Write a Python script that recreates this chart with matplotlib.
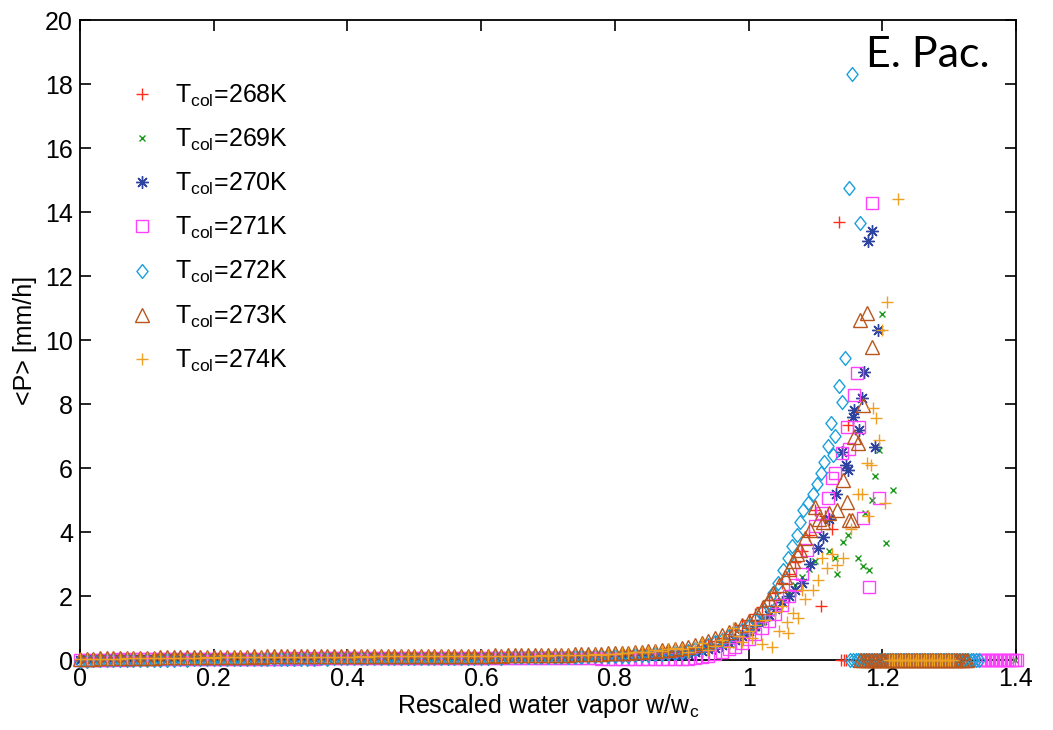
import numpy as np
import matplotlib
matplotlib.use('Agg')
from matplotlib import pyplot as plt
from matplotlib.path import Path

plt.rcParams['font.family'] = ['Liberation Sans', 'DejaVu Sans']
plt.rcParams['mathtext.fontset'] = 'custom'
plt.rcParams['mathtext.rm'] = 'Liberation Sans'
plt.rcParams['mathtext.it'] = 'Liberation Sans:italic'

# column temperatures
temps = [268, 269, 270, 271, 272, 273, 274]

# flat part: one bin every 0.01 from 0 to 0.89
flat_step = 0.01
y_flat_268 = [0.03, 0.03, 0.04, 0.04, 0.05, 0.04, 0.05, 0.05, 0.06, 0.05, 0.06, 0.06, 0.05, 0.06, 0.07,
              0.06, 0.07, 0.07, 0.06, 0.07, 0.08, 0.07, 0.08, 0.08, 0.07, 0.08, 0.09, 0.08, 0.08, 0.09,
              0.08, 0.09, 0.08, 0.09, 0.09, 0.08, 0.09, 0.10, 0.09, 0.09, 0.10, 0.09, 0.10, 0.09, 0.10,
              0.10, 0.09, 0.10, 0.10, 0.09, 0.10, 0.11, 0.10, 0.10, 0.11, 0.10, 0.11, 0.10, 0.11, 0.11,
              0.10, 0.11, 0.11, 0.12, 0.11, 0.11, 0.12, 0.11, 0.12, 0.12, 0.12, 0.13, 0.12, 0.13, 0.13,
              0.13, 0.14, 0.13, 0.14, 0.15, 0.15, 0.16, 0.16, 0.17, 0.18, 0.19, 0.20, 0.22, 0.24, 0.26]
y_flat_269 = [0.02, 0.02, 0.03, 0.03, 0.03, 0.04, 0.03, 0.04, 0.04, 0.05, 0.04, 0.05, 0.05, 0.05, 0.06,
              0.05, 0.06, 0.06, 0.05, 0.06, 0.06, 0.07, 0.06, 0.07, 0.07, 0.06, 0.07, 0.07, 0.08, 0.07,
              0.07, 0.08, 0.07, 0.08, 0.08, 0.07, 0.08, 0.08, 0.08, 0.09, 0.08, 0.08, 0.09, 0.08, 0.09,
              0.09, 0.08, 0.09, 0.09, 0.09, 0.10, 0.09, 0.09, 0.10, 0.09, 0.10, 0.10, 0.09, 0.10, 0.10,
              0.10, 0.10, 0.11, 0.10, 0.11, 0.10, 0.11, 0.11, 0.11, 0.12, 0.11, 0.12, 0.12, 0.12, 0.13,
              0.12, 0.13, 0.13, 0.14, 0.14, 0.15, 0.15, 0.16, 0.17, 0.17, 0.18, 0.19, 0.20, 0.21, 0.23]
y_flat_270 = [0.01, 0.02, 0.02, 0.02, 0.03, 0.03, 0.03, 0.03, 0.04, 0.04, 0.04, 0.04, 0.05, 0.04, 0.05,
              0.05, 0.05, 0.05, 0.06, 0.05, 0.06, 0.06, 0.06, 0.06, 0.07, 0.06, 0.07, 0.06, 0.07, 0.07,
              0.07, 0.07, 0.07, 0.08, 0.07, 0.07, 0.08, 0.07, 0.08, 0.08, 0.08, 0.08, 0.08, 0.08, 0.09,
              0.08, 0.09, 0.08, 0.09, 0.09, 0.09, 0.09, 0.09, 0.09, 0.10, 0.09, 0.10, 0.09, 0.10, 0.10,
              0.10, 0.10, 0.10, 0.10, 0.11, 0.10, 0.11, 0.11, 0.11, 0.11, 0.12, 0.11, 0.12, 0.12, 0.12,
              0.12, 0.12, 0.13, 0.13, 0.13, 0.14, 0.14, 0.15, 0.15, 0.16, 0.16, 0.17, 0.18, 0.19, 0.20]
y_flat_271 = [0.00, 0.00, 0.01, 0.01, 0.01, 0.01, 0.02, 0.01, 0.02, 0.02, 0.02, 0.02, 0.02, 0.03, 0.02,
              0.03, 0.03, 0.03, 0.03, 0.03, 0.03, 0.04, 0.03, 0.04, 0.04, 0.04, 0.04, 0.04, 0.04, 0.04,
              0.04, 0.05, 0.04, 0.05, 0.05, 0.04, 0.05, 0.05, 0.05, 0.05, 0.05, 0.05, 0.05, 0.06, 0.05,
              0.05, 0.06, 0.05, 0.06, 0.06, 0.05, 0.06, 0.06, 0.06, 0.06, 0.06, 0.06, 0.06, 0.06, 0.06,
              0.06, 0.06, 0.06, 0.06, 0.06, 0.06, 0.06, 0.06, 0.06, 0.06, 0.06, 0.06, 0.06, 0.05, 0.05,
              0.05, 0.05, 0.05, 0.04, 0.04, 0.04, 0.03, 0.03, 0.03, 0.02, 0.02, 0.02, 0.02, 0.02, 0.02]
y_flat_272 = [-0.02, -0.02, -0.01, -0.01, -0.01, 0.00, 0.00, 0.00, 0.00, 0.01, 0.00, 0.01, 0.01, 0.01, 0.01,
              0.02, 0.01, 0.02, 0.02, 0.02, 0.02, 0.03, 0.02, 0.03, 0.03, 0.03, 0.03, 0.03, 0.04, 0.03,
              0.04, 0.04, 0.04, 0.04, 0.04, 0.04, 0.05, 0.04, 0.05, 0.05, 0.05, 0.05, 0.05, 0.05, 0.05,
              0.06, 0.05, 0.06, 0.06, 0.06, 0.06, 0.06, 0.06, 0.06, 0.07, 0.06, 0.07, 0.07, 0.07, 0.07,
              0.07, 0.07, 0.08, 0.07, 0.08, 0.08, 0.08, 0.08, 0.09, 0.08, 0.09, 0.09, 0.09, 0.10, 0.10,
              0.10, 0.11, 0.11, 0.12, 0.12, 0.13, 0.14, 0.14, 0.15, 0.16, 0.17, 0.18, 0.19, 0.21, 0.23]
y_flat_273 = [0.03, 0.04, 0.04, 0.05, 0.05, 0.05, 0.06, 0.06, 0.06, 0.07, 0.07, 0.07, 0.08, 0.08, 0.08,
              0.08, 0.09, 0.09, 0.09, 0.09, 0.10, 0.09, 0.10, 0.10, 0.10, 0.10, 0.11, 0.10, 0.11, 0.11,
              0.11, 0.11, 0.11, 0.12, 0.11, 0.12, 0.12, 0.11, 0.12, 0.12, 0.12, 0.12, 0.13, 0.12, 0.13,
              0.12, 0.13, 0.13, 0.13, 0.12, 0.13, 0.13, 0.13, 0.14, 0.13, 0.14, 0.13, 0.14, 0.14, 0.14,
              0.14, 0.14, 0.15, 0.14, 0.15, 0.15, 0.15, 0.15, 0.16, 0.16, 0.16, 0.17, 0.17, 0.17, 0.18,
              0.18, 0.19, 0.19, 0.20, 0.21, 0.21, 0.22, 0.23, 0.24, 0.25, 0.27, 0.28, 0.30, 0.32, 0.35]
y_flat_274 = [0.02, 0.03, 0.03, 0.03, 0.04, 0.04, 0.04, 0.05, 0.05, 0.05, 0.05, 0.06, 0.06, 0.06, 0.06,
              0.07, 0.07, 0.07, 0.07, 0.08, 0.07, 0.08, 0.08, 0.08, 0.08, 0.08, 0.09, 0.08, 0.09, 0.09,
              0.09, 0.09, 0.09, 0.10, 0.09, 0.10, 0.10, 0.10, 0.10, 0.10, 0.10, 0.10, 0.11, 0.10, 0.11,
              0.11, 0.11, 0.11, 0.11, 0.11, 0.11, 0.12, 0.11, 0.12, 0.12, 0.12, 0.12, 0.12, 0.12, 0.13,
              0.12, 0.13, 0.13, 0.13, 0.13, 0.14, 0.13, 0.14, 0.14, 0.15, 0.14, 0.15, 0.16, 0.15, 0.16,
              0.17, 0.16, 0.18, 0.17, 0.19, 0.20, 0.22, 0.21, 0.24, 0.26, 0.25, 0.30, 0.28, 0.33, 0.38]

# rising part (x, <P>)
x_rise_268 = [0.90, 0.91, 0.92, 0.93, 0.94, 0.95, 0.96, 0.97, 0.98, 0.99, 1.00, 1.01, 1.02, 1.03, 1.04,
              1.05, 1.06, 1.07, 1.08, 1.09, 1.10, 1.108, 1.115, 1.125, 1.135, 1.149]
y_rise_268 = [0.28, 0.32, 0.37, 0.43, 0.50, 0.58, 0.68, 0.80, 0.93, 1.08, 1.25, 1.43, 1.65, 1.87, 2.10,
              2.40, 2.70, 3.05, 3.40, 3.90, 4.70, 1.70, 4.50, 4.10, 13.70, 7.35]
x_rise_269 = [0.90, 0.91, 0.92, 0.93, 0.94, 0.95, 0.96, 0.97, 0.98, 0.99, 1.00, 1.01, 1.02, 1.03, 1.04,
              1.05, 1.06, 1.07, 1.08, 1.09, 1.10, 1.12, 1.129, 1.132, 1.141, 1.149, 1.164, 1.171, 1.174,
              1.180, 1.185, 1.189, 1.195, 1.199, 1.205, 1.216]
y_rise_269 = [0.20, 0.23, 0.27, 0.31, 0.36, 0.42, 0.49, 0.57, 0.66, 0.75, 0.85, 1.00, 1.18, 1.38, 1.60,
              1.83, 2.08, 2.34, 2.60, 2.85, 3.10, 3.40, 3.20, 2.70, 3.70, 3.90, 3.20, 2.95, 4.60,
              2.80, 5.00, 5.75, 6.56, 10.80, 3.65, 5.30]
x_rise_270 = [0.90, 0.91, 0.92, 0.93, 0.94, 0.95, 0.96, 0.97, 0.98, 0.99, 1.00, 1.01, 1.02, 1.03, 1.04,
              1.05, 1.06, 1.07, 1.08, 1.092, 1.104, 1.111, 1.12, 1.131, 1.140, 1.146, 1.149, 1.156, 1.158,
              1.165, 1.170, 1.173, 1.179, 1.185, 1.189, 1.193]
y_rise_270 = [0.17, 0.20, 0.24, 0.28, 0.33, 0.39, 0.46, 0.54, 0.63, 0.75, 0.90, 1.07, 1.25, 1.42, 1.60,
              1.80, 2.00, 2.20, 2.40, 3.00, 3.50, 3.85, 4.40, 5.20, 6.50, 6.10, 5.95, 7.60, 7.80,
              7.20, 8.20, 9.00, 13.10, 13.40, 6.66, 10.30]
x_rise_271 = [0.90, 0.91, 0.92, 0.93, 0.94, 0.95, 0.96, 0.97, 0.98, 0.99, 1.00, 1.01, 1.02, 1.03, 1.04,
              1.05, 1.06, 1.07, 1.08, 1.087, 1.10, 1.11, 1.119, 1.125, 1.129, 1.140, 1.147, 1.150, 1.158,
              1.162, 1.165, 1.171, 1.180, 1.185, 1.195]
y_rise_271 = [0.02, 0.03, 0.05, 0.08, 0.12, 0.18, 0.25, 0.33, 0.42, 0.53, 0.65, 0.82, 1.00, 1.22, 1.45,
              1.72, 2.00, 2.35, 2.70, 3.45, 4.20, 4.60, 5.06, 5.70, 5.84, 6.47, 7.28, 6.60, 8.28,
              8.97, 7.28, 4.44, 2.28, 14.28, 5.06]
x_rise_272 = [0.90, 0.91, 0.92, 0.93, 0.94, 0.95, 0.96, 0.97, 0.98, 0.99, 1.00, 1.01, 1.02, 1.03, 1.037,
              1.044, 1.052, 1.059, 1.065, 1.072, 1.077, 1.082, 1.089, 1.097, 1.102, 1.108, 1.113, 1.119,
              1.123, 1.126, 1.129, 1.135, 1.140, 1.144, 1.150, 1.155, 1.167]
y_rise_272 = [0.25, 0.29, 0.34, 0.40, 0.47, 0.55, 0.64, 0.74, 0.85, 0.95, 1.05, 1.25, 1.50, 1.80, 2.10,
              2.40, 2.80, 3.20, 3.55, 3.90, 4.30, 4.70, 4.90, 5.20, 5.50, 5.85, 6.20, 6.70,
              7.40, 6.40, 7.00, 8.55, 8.05, 9.45, 14.75, 18.30, 13.65]
x_rise_273 = [0.90, 0.91, 0.92, 0.93, 0.94, 0.95, 0.96, 0.97, 0.98, 0.99, 1.00, 1.012, 1.022, 1.03, 1.037,
              1.045, 1.054, 1.06, 1.066, 1.072, 1.077, 1.085, 1.092, 1.099, 1.105, 1.112, 1.12, 1.132,
              1.141, 1.147, 1.150, 1.154, 1.158, 1.163, 1.167, 1.171, 1.177, 1.185]
y_rise_273 = [0.38, 0.42, 0.47, 0.53, 0.60, 0.68, 0.77, 0.87, 0.98, 1.10, 1.22, 1.45, 1.66, 1.90, 2.10,
              2.35, 2.60, 2.85, 3.10, 3.30, 3.45, 3.80, 4.06, 4.78, 4.40, 4.30, 4.60, 4.69,
              5.63, 4.94, 4.38, 4.38, 6.97, 6.78, 10.63, 7.97, 10.84, 9.78]
x_rise_274 = [0.90, 0.91, 0.92, 0.93, 0.94, 0.95, 0.96, 0.97, 0.977, 0.985, 0.99, 1.00, 1.005, 1.01, 1.02,
              1.025, 1.035, 1.04, 1.045, 1.05, 1.057, 1.059, 1.066, 1.074, 1.08, 1.085, 1.097, 1.104,
              1.11, 1.117, 1.125, 1.132, 1.141, 1.153, 1.164, 1.170, 1.177, 1.179, 1.183, 1.186, 1.191,
              1.195, 1.199, 1.204, 1.207, 1.224]
y_rise_274 = [0.35, 0.25, 0.42, 0.53, 0.30, 0.45, 0.62, 0.40, 1.00, 0.75, 0.55, 0.90, 0.70, 1.10, 0.50,
              1.25, 0.40, 1.50, 0.90, 1.70, 1.20, 0.84, 1.47, 1.30, 2.20, 1.90, 2.20, 2.50,
              3.20, 2.86, 3.30, 2.97, 3.20, 4.10, 5.20, 5.20, 6.15, 4.50, 6.10, 7.88, 7.56,
              6.88, 10.30, 4.90, 11.20, 14.40]

# empty bins (zero rain) at the high end: (first, last) x of each run
tail_step = 0.004
tail_268 = (1.138, 1.148)
tail_269 = (1.398, 1.400)
tail_270 = None
tail_271 = (1.346, 1.405)
tail_272 = (1.152, 1.346)
tail_273 = (1.167, 1.327)
tail_274 = (1.210, 1.306)

y_flat = [y_flat_268, y_flat_269, y_flat_270, y_flat_271, y_flat_272, y_flat_273, y_flat_274]
x_rise = [x_rise_268, x_rise_269, x_rise_270, x_rise_271, x_rise_272, x_rise_273, x_rise_274]
y_rise = [y_rise_268, y_rise_269, y_rise_270, y_rise_271, y_rise_272, y_rise_273, y_rise_274]
tails = [tail_268, tail_269, tail_270, tail_271, tail_272, tail_273, tail_274]

# matlab-ish diamond, a bit taller than wide
diamond = Path([(0, 1), (0.8, 0), (0, -1), (-0.8, 0), (0, 1)],
               [Path.MOVETO, Path.LINETO, Path.LINETO, Path.LINETO, Path.CLOSEPOLY])

styles = [
    dict(marker='+', color='#ff2d1a', ms=9, mew=1.0, mfc='none'),
    dict(marker='x', color='#1a9a1a', ms=4, mew=1.0, mfc='none'),
    dict(marker=(8, 2, 0), color='#2f43a0', ms=9, mew=1.0, mfc='none'),
    dict(marker='s', color='#ff40ff', ms=9, mew=1.0, mfc='none'),
    dict(marker=diamond, color='#1aa0dc', ms=10, mew=1.0, mfc='none'),
    dict(marker='^', color='#b8561c', ms=10, mew=1.0, mfc='none'),
    dict(marker='+', color='#f0a020', ms=9, mew=1.0, mfc='none'),
]

fig = plt.figure(figsize=(10.53, 7.30), dpi=100)
ax = fig.add_axes([80 / 1053, 70 / 730, 936 / 1053, 640 / 730])

for t, yf, xr, yr, tail, st in zip(temps, y_flat, x_rise, y_rise, tails, styles):
    xs = list(np.arange(len(yf)) * flat_step) + list(xr)
    ys = list(yf) + list(yr)
    if tail is not None:
        xt = np.arange(tail[0], tail[1] + 1e-9, tail_step)
        xs += list(xt)
        ys += [0.0] * len(xt)
    ax.plot(xs, ys, linestyle='none', marker=st['marker'], color=st['color'],
            markersize=st['ms'], markeredgewidth=st['mew'], markerfacecolor=st['mfc'],
            clip_on=False, zorder=3, label=r'T$_{\rm col}$=%dK' % t)

ax.set_xlim(0, 1.4)
ax.set_ylim(0, 20)
ax.set_xticks([0, 0.2, 0.4, 0.6, 0.8, 1.0, 1.2, 1.4])
ax.set_xticklabels(['0', '0.2', '0.4', '0.6', '0.8', '1', '1.2', '1.4'])
ax.set_yticks(range(0, 21, 2))
ax.tick_params(direction='in', length=8, width=1.2, labelsize=18, top=True, right=True, pad=5)
for sp in ax.spines.values():
    sp.set_linewidth(1.3)

ax.set_xlabel(r'Rescaled water vapor w/w$_{\rm c}$', fontsize=18, labelpad=1)
ax.set_ylabel('<P> [mm/h]', fontsize=18, labelpad=6)

leg = ax.legend(loc='upper left', bbox_to_anchor=(0.04, 0.918), frameon=False, numpoints=1,
                fontsize=18, labelspacing=0.72, handlelength=1.2, handletextpad=0.7,
                borderaxespad=0.0)

ax.text(0.84, 0.975, 'E. Pac.', transform=ax.transAxes, fontsize=31, family='Lato',
        ha='left', va='top')

fig.savefig('out.png', dpi=100)
